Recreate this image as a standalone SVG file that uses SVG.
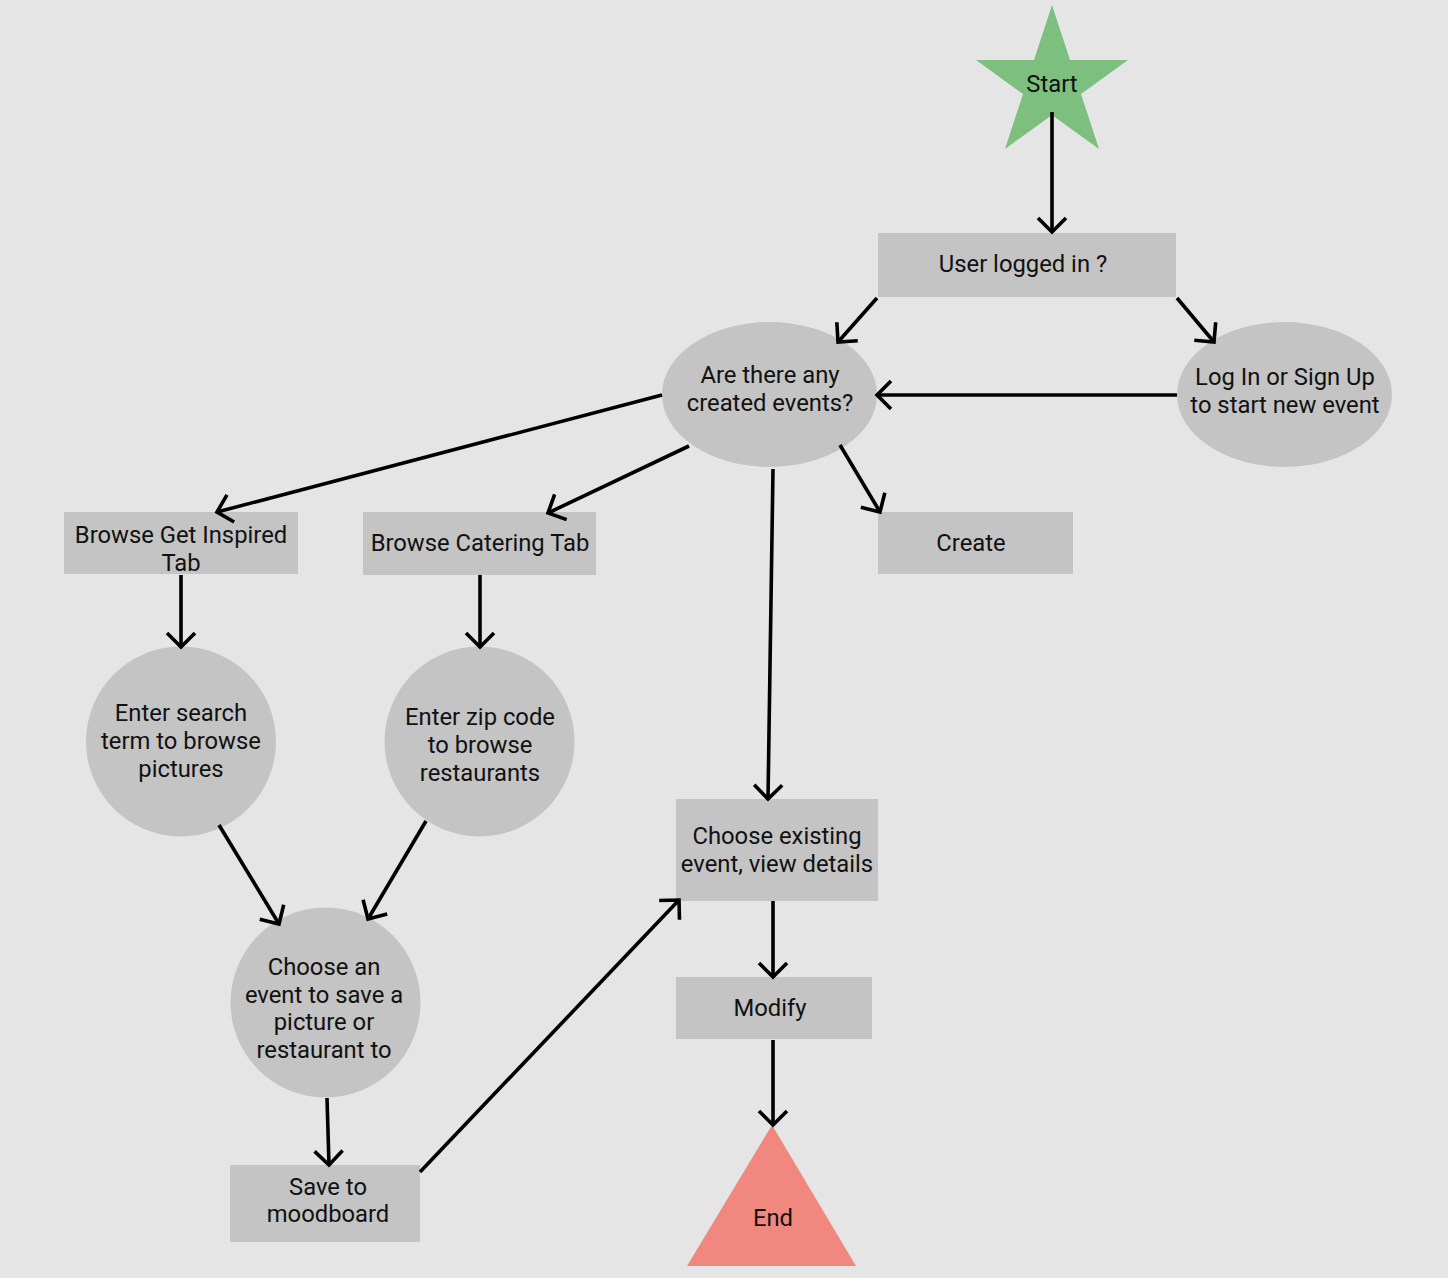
<svg xmlns="http://www.w3.org/2000/svg" width="1448" height="1278" viewBox="0 0 1448 1278">
<defs>
<style>
.n{fill:#c4c4c4}
text{font-family:Roboto,"Liberation Sans",sans-serif;font-size:23.8px;fill:#111;text-anchor:middle}
.c line{stroke:#000;stroke-width:3.6;fill:none;marker-end:url(#ah)}
</style>
<marker id="ah" markerUnits="userSpaceOnUse" markerWidth="40" markerHeight="40" refX="0" refY="0" viewBox="-20 -20 40 40" orient="auto" overflow="visible">
<path d="M-14,-14 L0,0 L-14,14" fill="none" stroke="#000" stroke-width="3.6"/>
</marker>
</defs>
<rect width="1448" height="1278" fill="#e5e5e5"/>
<g id="start">
<polygon points="1052,5 1070,60 1128,60 1081,94 1099,149 1052,115 1005,149 1023,94 976,60 1034,60" fill="#7cbf7e"/>
<text x="1052" y="92">Start</text>
</g>
<g id="userLoggedIn">
<rect class="n" x="878" y="233" width="298" height="64"/>
<text x="1023" y="272">User logged in ?</text>
</g>
<g id="anyEvents">
<ellipse class="n" cx="769.5" cy="394.5" rx="107.5" ry="72.5"/>
<text x="770" y="383">Are there any</text>
<text x="770" y="411">created events?</text>
</g>
<g id="logIn">
<ellipse class="n" cx="1284.5" cy="394.5" rx="107.5" ry="72.5"/>
<text x="1285" y="385">Log In or Sign Up</text>
<text x="1285" y="413">to start new event</text>
</g>
<g id="browseInspired">
<rect class="n" x="64" y="512" width="234" height="62"/>
<text x="181" y="543">Browse Get Inspired</text>
<text x="181" y="571">Tab</text>
</g>
<g id="browseCatering">
<rect class="n" x="363" y="512" width="233" height="63"/>
<text x="480" y="551">Browse Catering Tab</text>
</g>
<g id="create">
<rect class="n" x="878" y="512" width="195" height="62"/>
<text x="971" y="551">Create</text>
</g>
<g id="enterSearch">
<circle class="n" cx="181" cy="741.5" r="95"/>
<text x="181" y="721">Enter search</text>
<text x="181" y="749">term to browse</text>
<text x="181" y="777">pictures</text>
</g>
<g id="enterZip">
<circle class="n" cx="479.5" cy="741.5" r="95"/>
<text x="480" y="725">Enter zip code</text>
<text x="480" y="753">to browse</text>
<text x="480" y="781">restaurants</text>
</g>
<g id="chooseEvent">
<circle class="n" cx="325.5" cy="1002.5" r="95"/>
<text x="324" y="975">Choose an</text>
<text x="324" y="1003">event to save a</text>
<text x="324" y="1030">picture or</text>
<text x="324" y="1058">restaurant to</text>
</g>
<g id="saveMoodboard">
<rect class="n" x="230" y="1165" width="190" height="77"/>
<text x="328" y="1195">Save to</text>
<text x="328" y="1222">moodboard</text>
</g>
<g id="chooseExisting">
<rect class="n" x="676" y="799" width="202" height="102"/>
<text x="777" y="844">Choose existing</text>
<text x="777" y="872">event, view details</text>
</g>
<g id="modify">
<rect class="n" x="676" y="977" width="196" height="62"/>
<text x="770" y="1016">Modify</text>
</g>
<g id="end">
<polygon points="772,1125 856,1266 687,1266" fill="#f08880"/>
<text x="773" y="1226">End</text>
</g>
<g id="connectors" class="c">
<line x1="1052" y1="112" x2="1052" y2="232"/>
<line x1="877" y1="298" x2="838" y2="342"/>
<line x1="1177" y1="298" x2="1214" y2="342"/>
<line x1="1177" y1="395" x2="877" y2="395"/>
<line x1="662" y1="395" x2="217" y2="512"/>
<line x1="689" y1="446" x2="548" y2="513"/>
<line x1="840" y1="445" x2="880" y2="512"/>
<line x1="773" y1="469" x2="768" y2="799"/>
<line x1="181" y1="575" x2="181" y2="647"/>
<line x1="480" y1="575" x2="480" y2="647"/>
<line x1="219" y1="825" x2="279" y2="924"/>
<line x1="426" y1="821" x2="368" y2="919"/>
<line x1="327" y1="1098" x2="329" y2="1165"/>
<line x1="420" y1="1172" x2="679" y2="900"/>
<line x1="773" y1="901" x2="773" y2="977"/>
<line x1="773" y1="1040" x2="773" y2="1125"/>
</g>
</svg>
